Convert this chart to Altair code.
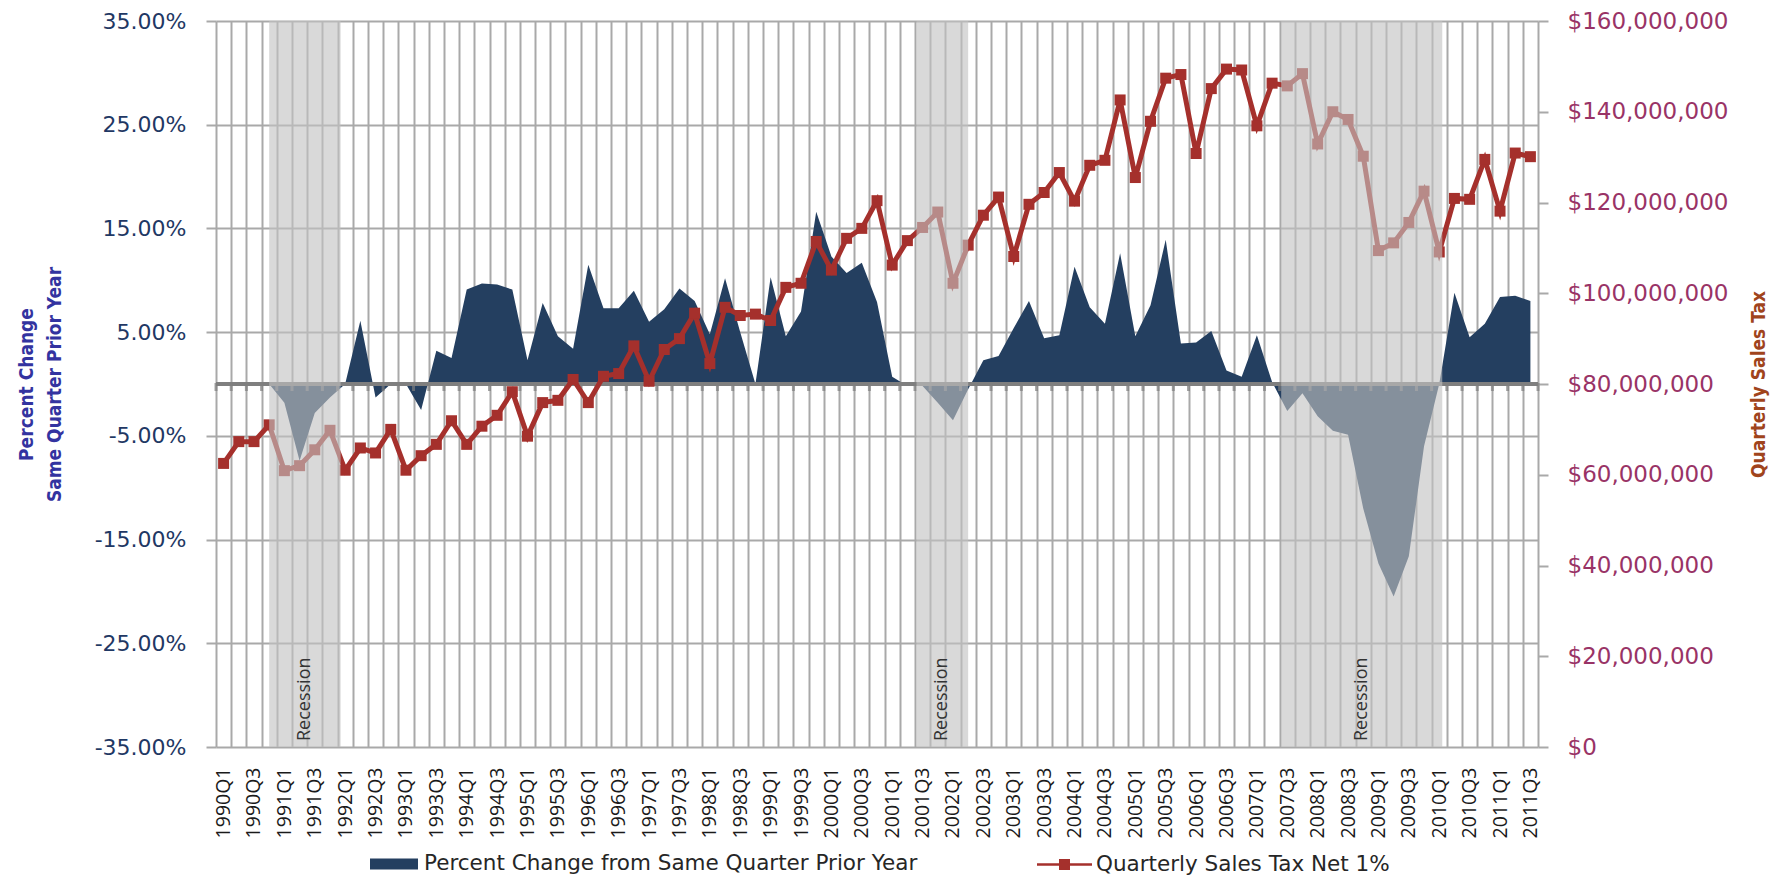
import altair as alt
import pandas as pd

# ---------------- data ----------------
years = list(range(1990, 2012))
quarters = [f"{y}Q{q}" for y in years for q in range(1, 5)][:87]   # 1990Q1 .. 2011Q3

# Percent change from same quarter prior year (%)
pct_change = [
    0.0, 0.0, 0.0, 0.0, -1.8, -7.4, -2.8, -1.3, 0.0, 6.1,
    -1.3, 0.0, 0.0, -2.5, 3.2, 2.5, 9.1, 9.7, 9.6, 9.1,
    2.3, 7.8, 4.6, 3.4, 11.5, 7.3, 7.3, 9.0, 6.0, 7.2,
    9.2, 8.0, 4.8, 10.2, 5.0, 0.0, 10.3, 4.6, 7.0, 16.6,
    12.3, 10.7, 11.7, 7.9, 0.7, -0.2, -0.2, -1.8, -3.5, -0.5,
    2.3, 2.7, 5.4, 8.0, 4.4, 4.7, 11.3, 7.4, 5.8, 12.6,
    4.6, 7.6, 13.9, 3.9, 4.0, 5.1, 1.3, 0.7, 4.7, 0.2,
    -2.6, -0.9, -3.1, -4.5, -4.9, -12.0, -17.3, -20.5, -16.6, -6.0,
    0.0, 8.8, 4.5, 5.8, 8.4, 8.5, 8.0,
]

# Quarterly sales tax, net 1% (millions of dollars)
sales_tax_m = [
    62.5, 67.3, 67.3, 71.0, 60.9, 62.0, 65.5, 69.8, 61.0, 65.9,
    64.8, 70.0, 61.0, 64.2, 66.7, 71.9, 66.7, 70.7, 73.1, 78.3,
    68.5, 75.9, 76.4, 81.0, 75.9, 81.7, 82.3, 88.4, 80.6, 87.6,
    90.0, 95.6, 84.5, 96.9, 95.1, 95.4, 94.0, 101.3, 102.2, 111.4,
    105.1, 112.1, 114.3, 120.4, 106.2, 111.6, 114.5, 117.9, 102.2, 110.6,
    117.2, 121.2, 108.1, 119.6, 122.2, 126.6, 120.3, 128.2, 129.3, 142.6,
    125.5, 137.9, 147.4, 148.2, 130.8, 145.1, 149.4, 149.2, 136.9, 146.3,
    145.7, 148.4, 132.9, 140.0, 138.3, 130.2, 109.4, 111.1, 115.6, 122.5,
    109.1, 120.9, 120.7, 129.5, 118.1, 130.9, 130.1,
]

# Recession periods (position on the quarter index axis)
rec_start = [3.0, 45.6, 69.6]
rec_end = [7.7, 49.0, 80.2]
rec_label = ["Recession", "Recession", "Recession"]

pct_ticks = [-35, -25, -15, -5, 5, 15, 25, 35]
tax_ticks_m = [0, 20, 40, 60, 80, 100, 120, 140, 160]

SERIES_1 = "Percent Change from Same Quarter Prior Year"
SERIES_2 = "Quarterly Sales Tax Net 1%"

# ---------------- tables ----------------
n = len(quarters)
df = pd.DataFrame({"i": list(range(n)), "quarter": quarters,
                   "pct": pct_change, "tax": sales_tax_m})
bounds = pd.DataFrame({"b": [k - 0.5 for k in range(n + 1)]})
rec = pd.DataFrame({"start": rec_start, "end": rec_end, "label": rec_label})
rec["mid"] = (rec["start"] + rec["end"]) / 2

# ---------------- style ----------------
W, H = 1322, 726
PAD_TOP = 13
NAVY = "#243F60"
RED = "#A5302C"
GRID = "#A9A9A9"
AXISGRAY = "#7F7F7F"
LABEL_FONT = "DejaVu Sans"
CAT_FONT = "Open Sans"
TITLE_FONT = "DejaVu Sans Condensed"

q_literal = "[" + ",".join(f"'{q}'" for q in quarters) + "]"
x_label_expr = (f"(round(datum.value + 0.5) % 2 == 0 && round(datum.value + 0.5) < {n}) "
                f"? {q_literal}[round(datum.value + 0.5)] : ''")

x_axis = alt.Axis(
    values=bounds["b"].tolist(), labelExpr=x_label_expr, labelAngle=270,
    labelAlign="right", labelBaseline="middle", labelOffset=W / n / 2,
    labelPadding=20, ticks=False, tickSize=0, domain=False, grid=True,
    gridColor=GRID, gridWidth=2, labelFont=CAT_FONT, labelFontSize=19.5,
    labelColor="#1a1a1a", labelOverlap=False, labelBound=False, title=None,
)
x_scale = alt.Scale(domain=[-0.5, n - 0.5], nice=False, zero=False)


def X(field):
    return alt.X(f"{field}:Q", scale=x_scale, axis=x_axis)


pct_scale = alt.Scale(domain=[-35, 35], nice=False, zero=False)
tax_scale = alt.Scale(domain=[0, 160], nice=False, zero=False)

left_axis = alt.Axis(
    values=pct_ticks,
    labelExpr="(datum.value < 0 ? '-' : '') + format(abs(datum.value), '.2f') + '%'",
    grid=True, gridColor=GRID, gridWidth=2, domain=False,
    ticks=True, tickSize=10, tickColor=GRID, tickWidth=2,
    labelPadding=20, labelFont=LABEL_FONT, labelFontSize=22, labelColor="#1F3864",
    title=["Percent Change", "Same Quarter Prior Year"], titleAngle=270,
    titleX=-190, titleY=H / 2, titleAlign="center", titleBaseline="middle",
    titleLineHeight=28, titleFont=TITLE_FONT, titleFontSize=19,
    titleFontWeight="bold", titleColor="#3333A0",
)
right_axis = alt.Axis(
    orient="right", values=tax_ticks_m,
    labelExpr="'$' + format(datum.value * 1000000, ',.0f')",
    grid=False, domain=False, ticks=True, tickSize=10, tickColor=GRID, tickWidth=2,
    labelPadding=19, labelFont=LABEL_FONT, labelFontSize=23, labelColor="#993366",
    title="Quarterly Sales Tax", titleAngle=270, titleX=220, titleY=H / 2,
    titleAlign="center", titleBaseline="middle", titleFont=TITLE_FONT,
    titleFontSize=19, titleFontWeight="bold", titleColor="#A0441C",
)

# ---------------- layers ----------------
area = alt.Chart(df).transform_calculate(series=f"'{SERIES_1}'").mark_area(
    opacity=1
).encode(
    x=X("i"),
    y=alt.Y("pct:Q", scale=pct_scale, axis=left_axis),
    fill=alt.Fill("series:N", scale=alt.Scale(domain=[SERIES_1], range=[NAVY]),
                  legend=alt.Legend(
                      title=None, orient="none", legendX=154, legendY=819,
                      symbolType="M-1,-0.23H1V0.23H-1Z", symbolSize=2304,
                      symbolStrokeWidth=0, labelFont=LABEL_FONT, labelFontSize=21.5,
                      labelColor="#262626", labelOffset=6, labelLimit=2000, padding=0)),
)

zero_line = alt.Chart(df).mark_rule(color=AXISGRAY, strokeWidth=4).encode(
    y=alt.YDatum(0, scale=pct_scale, axis=None)
)

zero_ticks = alt.Chart(bounds).mark_tick(
    color=AXISGRAY, thickness=3, size=8, orient="vertical", yOffset=3
).encode(
    x=X("b"),
    y=alt.YDatum(0, scale=pct_scale, axis=None),
)

line = alt.Chart(df).mark_line(color=RED, strokeWidth=5).encode(
    x=X("i"),
    y=alt.Y("tax:Q", scale=tax_scale, axis=right_axis),
)

points = alt.Chart(df).transform_calculate(series2=f"'{SERIES_2}'").mark_square(
    size=121, opacity=1
).encode(
    x=X("i"),
    y=alt.Y("tax:Q", scale=tax_scale, axis=None),
    fill=alt.Fill("series2:N", scale=alt.Scale(domain=[SERIES_2], range=[RED]),
                  legend=alt.Legend(
                      title=None, orient="none", legendX=821, legendY=816,
                      symbolType="M-1,-0.045H-0.2V-0.2H0.2V-0.045H1V0.045H0.2V0.2H-0.2V0.045H-1Z",
                      symbolSize=3025, symbolStrokeWidth=0, labelFont=LABEL_FONT,
                      labelFontSize=21.5, labelColor="#262626", labelOffset=4,
                      labelLimit=2000, padding=0)),
)

bands = alt.Chart(rec).mark_rect(color="#C2C2C2", opacity=0.62).encode(
    x=X("start"), x2="end", y=alt.value(0), y2=alt.value(H)
)

band_text = alt.Chart(rec).mark_text(
    angle=270, align="left", baseline="middle", dx=6,
    font=CAT_FONT, fontSize=18, color="#333333"
).encode(
    x=X("mid"), y=alt.value(H), text="label:N"
)

chart = alt.layer(
    area, zero_line, zero_ticks, line, points, bands, band_text
).resolve_scale(
    y="independent", fill="independent"
).properties(
    width=W, height=H,
    autosize=alt.AutoSizeParams(type="none"),
    padding={"left": 208, "top": PAD_TOP, "right": 237, "bottom": 874 - PAD_TOP - H},
    background="white",
).configure_view(stroke=None)

chart.save("out.html", embed_options={"renderer": "svg", "actions": False})
